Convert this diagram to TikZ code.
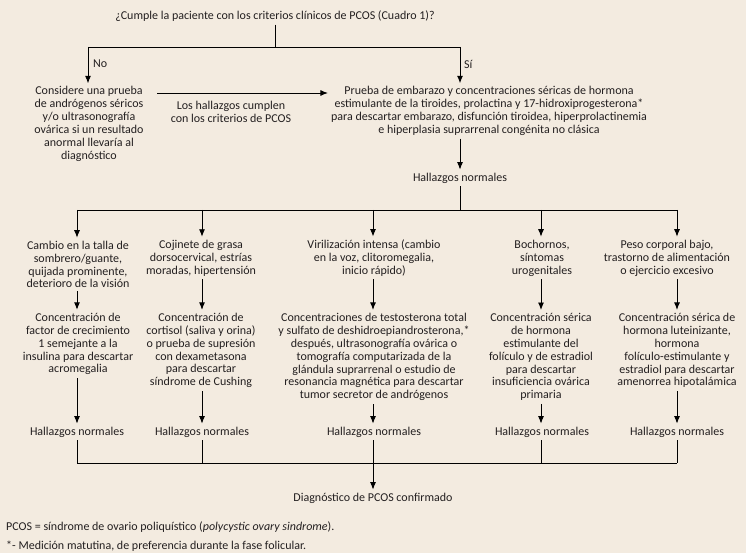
\documentclass[tikz,border=0pt]{standalone}
\usepackage{fontspec}
\setmainfont{Carlito}
\usetikzlibrary{arrows.meta,calc}
\definecolor{bg}{HTML}{F3EBE0}
\definecolor{ink}{HTML}{231F20}
\begin{document}
\begin{tikzpicture}[x=1pt,y=-1pt,
  txt/.style={font=\fontsize{12}{12.9}\selectfont, align=center, inner sep=3pt, text=ink},
  ln/.style={line width=0.9pt, draw=black},
  arr/.style={ln, -{Latex[length=7.5pt,width=6pt]}}]
\fill[bg] (0,0) rectangle (746,553);
\useasboundingbox (0,0) rectangle (746,553);
% top
\node[txt] (title) at (275,16) {¿Cumple la paciente con los criterios clínicos de PCOS (Cuadro 1)?};
\node[txt, anchor=west] (no) at (90,64) {No};
\node[txt, anchor=west] (si) at (461,64) {Sí};
\node[txt] (L) at (89,124) {Considere una prueba\\de andrógenos séricos\\y/o ultrasonografía\\ovárica si un resultado\\anormal llevaría al\\diagnóstico};
\node[txt] (H) at (231,112) {Los hallazgos cumplen\\con los criterios de PCOS};
\node[txt] (R) at (489,111) {Prueba de embarazo y concentraciones séricas de hormona\\estimulante de la tiroides, prolactina y 17-hidroxiprogesterona*\\para descartar embarazo, disfunción tiroidea, hiperprolactinemia\\e hiperplasia suprarrenal congénita no clásica};
\node[txt] (H0) at (460,178) {Hallazgos normales};
% column first row
\node[txt] (A1) at (78,264.5) {Cambio en la talla de\\sombrero/guante,\\quijada prominente,\\deterioro de la visión};
\node[txt] (A2) at (201,258) {Cojinete de grasa\\dorsocervical, estrías\\moradas, hipertensión};
\node[txt] (A3) at (374,258) {Virilización intensa (cambio\\en la voz, clitoromegalia,\\inicio rápido)};
\node[txt] (A4) at (542,258) {Bochornos,\\síntomas\\urogenitales};
\node[txt] (A5) at (667,258) {Peso corporal bajo,\\trastorno de alimentación\\o ejercicio excesivo};
% column second row
\node[txt] (B1) at (78,344) {Concentración de\\factor de crecimiento\\1 semejante a la\\insulina para descartar\\acromegalia};
\node[txt] (B2) at (201,350.5) {Concentración de\\cortisol (saliva y orina)\\o prueba de supresión\\con dexametasona\\para descartar\\síndrome de Cushing};
\node[txt] (B3) at (374,357) {Concentraciones de testosterona total\\y sulfato de deshidroepiandrosterona,*\\después, ultrasonografía ovárica o\\tomografía computarizada de la\\glándula suprarrenal o estudio de\\resonancia magnética para descartar\\tumor secretor de andrógenos};
\node[txt] (B4) at (541,357) {Concentración sérica\\de hormona\\estimulante del\\folículo y de estradiol\\para descartar\\insuficiencia ovárica\\primaria};
\node[txt] (B5) at (677,350.5) {Concentración sérica de\\hormona luteinizante,\\hormona\\folículo-estimulante y\\estradiol para descartar\\amenorrea hipotalámica};
% findings row
\node[txt] (C1) at (77,432) {Hallazgos normales};
\node[txt] (C2) at (202,432) {Hallazgos normales};
\node[txt] (C3) at (374,432) {Hallazgos normales};
\node[txt] (C4) at (542,432) {Hallazgos normales};
\node[txt] (C5) at (677,432) {Hallazgos normales};
\node[txt] (D) at (373,498) {Diagnóstico de PCOS confirmado};
% footnotes
\node[txt, anchor=west, inner sep=0pt] (f1) at (6,527) {PCOS = síndrome de ovario poliquístico (\textit{polycystic ovary sindrome}).};
\node[txt, anchor=west, inner sep=0pt] (f2) at (6,546) {*- Medición matutina, de preferencia durante la fase folicular.};
% junction coordinates
\coordinate (j0) at (275,47);
\coordinate (jL) at (88,47);
\coordinate (jR) at (460,47);
\coordinate (hs) at (157,93);
\coordinate (k1) at (77,210);
\coordinate (k2) at (202,210);
\coordinate (k3) at (373,210);
\coordinate (k4) at (541,210);
\coordinate (k5) at (677,210);
\coordinate (m1) at (77,463);
\coordinate (m5) at (677,463);
% connectors top
\draw[ln] (title.south) -- (j0);
\draw[ln] (jL) -- (jR);
\draw[arr] (jL) -- (jL |- L.north);
\draw[arr] (jR) -- (jR |- R.north);
\draw[arr] (hs) -- (hs -| R.west);
\draw[arr] (H0 |- R.south) -- (H0.north);
\draw[ln] (H0.south) -- (H0 |- k1);
\draw[ln] (k1) -- (k5);
% columns
\foreach \i in {1,...,5}{
  \draw[arr] (k\i) -- (k\i |- A\i.north);
  \draw[arr] (k\i |- A\i.south) -- (k\i |- B\i.north);
  \draw[arr] (k\i |- B\i.south) -- (k\i |- C\i.north);
  \draw[ln] (k\i |- C\i.south) -- (k\i |- m1);
}
\draw[ln] (m1) -- (m5);
\draw[arr] (D |- m1) -- (D.north);
\end{tikzpicture}
\end{document}
